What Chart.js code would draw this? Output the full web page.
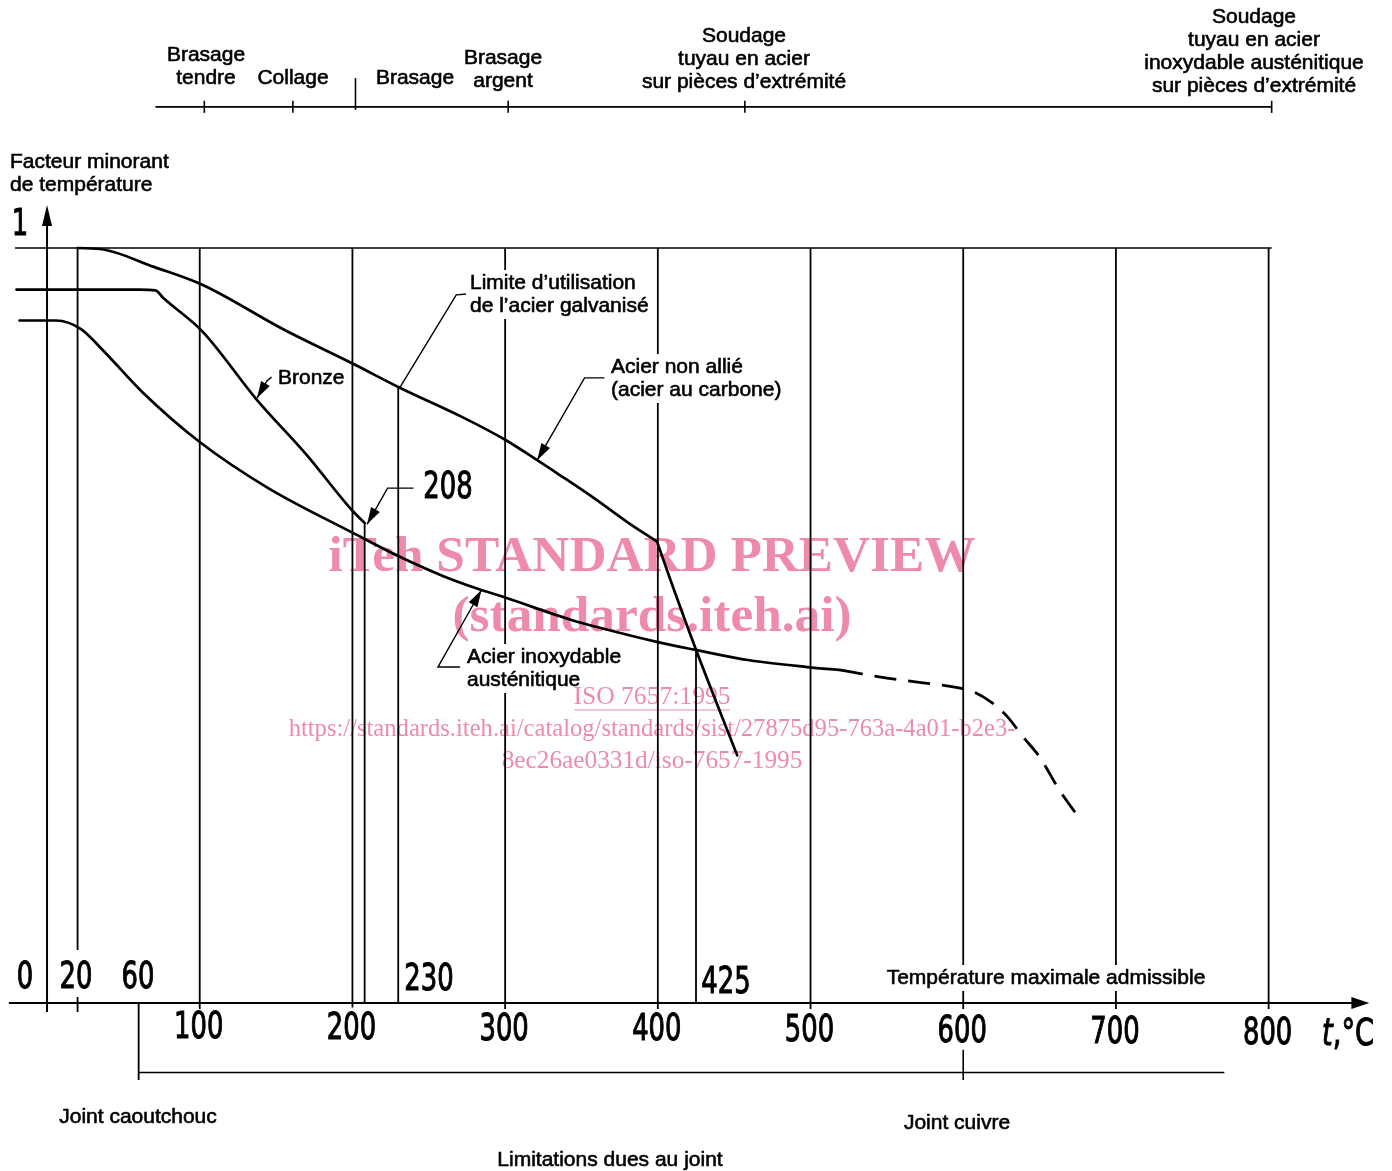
<!DOCTYPE html>
<html>
<head>
<meta charset="utf-8">
<script src="https://cdn.jsdelivr.net/npm/chart.js@4.4.1/dist/chart.umd.min.js"></script>
<style>
  html, body { margin: 0; padding: 0; background: #fff; }
  #wrap { width: 1392px; height: 1171px; position: relative; }
</style>
</head>
<body>
<div id="wrap"><canvas id="chart"></canvas></div>
<script>
// temperature t (°C) / temperature reduction factor
const carbonTemp   = [20, 37, 70, 102, 155, 202, 231, 272, 300, 321, 336, 358, 380, 399.5];
const carbonFactor = [1, 0.998, 0.975, 0.951, 0.892, 0.845, 0.815, 0.776, 0.746, 0.719, 0.699, 0.669, 0.637, 0.611];
// steep drop of the carbon steel curve above 400 °C
const carbonDropTemp   = [399.5, 408, 425, 452];
const carbonDropFactor = [0.611, 0.562, 0.468, 0.328];

const bronzeTemp   = [-20, 20, 60, 71, 76, 102, 137, 170, 200, 208];
const bronzeFactor = [0.945, 0.945, 0.945, 0.944, 0.934, 0.889, 0.8, 0.726, 0.652, 0.636];

const stainlessTemp   = [-18, 6, 22, 35, 63, 100, 144, 200, 231, 260, 283, 300, 344, 362, 400, 424, 460, 498, 520];
const stainlessFactor = [0.904, 0.904, 0.893, 0.868, 0.808, 0.743, 0.683, 0.623, 0.591, 0.565, 0.548, 0.537, 0.507, 0.497, 0.478, 0.468, 0.454, 0.445, 0.441];

// dashed continuation of the stainless steel curve
const stainlessDashTemp   = [520, 545, 570, 598, 607, 618, 629, 639, 650, 663, 677];
const stainlessDashFactor = [0.441, 0.432, 0.425, 0.417, 0.412, 0.399, 0.379, 0.353, 0.326, 0.282, 0.242];

// vertical reference lines: temperature, top and bottom factor
const refTemps  = [20, 100, 200, 208, 230, 300, 400, 425, 500, 600, 700, 800];
const refTop    = [1, 1, 1, 0.636, 0.815, 1, 1, 0.468, 1, 1, 1, 1];
const refBottom = [-0.012, -0.008, -0.006, 0, 0, -0.008, -0.008, 0, -0.008, -0.008, -0.008, -0.008];

// axis tick labels
const xTickValues = [100, 200, 300, 400, 500, 600, 700, 800];

// process limits above the chart (bracket ticks) and joint limits below
const processTicks = [103, 161, 302, 457, 802];
const processSplit = 202;
const processRange = [71, 802];
const jointRange = [60, 771];
const jointTicks = [600];

// leader lines (temperature / factor), last point is the arrow tip
const leaderGalvTemp   = [275, 268, 231];
const leaderGalvFactor = [0.939, 0.938, 0.815];
const leaderBronzeTemp   = [147, 144, 137.5];
const leaderBronzeFactor = [0.829, 0.824, 0.801];
const leader208Temp   = [240, 223, 209.6];
const leader208Factor = [0.682, 0.682, 0.634];
const leaderCarbonTemp   = [365, 352, 321];
const leaderCarbonFactor = [0.828, 0.828, 0.719];
const leaderStainTemp   = [270.5, 256, 284.5];
const leaderStainFactor = [0.445, 0.445, 0.547];

const FONT = '"Liberation Sans", Arial, sans-serif';
const NUMFONT = '"DejaVu Sans", sans-serif';
const PINK = '#ee8aab';

const datasets = [];
const add = (xs, ys, w, extra) => datasets.push(Object.assign({
  data: xs.map((x, i) => ({ x, y: ys[i] })),
  showLine: true, borderColor: '#000', borderWidth: w,
  pointRadius: 0, pointHoverRadius: 0, tension: 0, fill: false
}, extra || {}));

// frame and reference lines
add([-21, 802], [1, 1], 1.7);
add([-25, 858], [0, 0], 2.2);
add([0, 0], [-0.012, 1.045], 2);
refTemps.forEach((t, i) => add([t, t], [refTop[i], refBottom[i]], 1.8));
add([60, 60], [0, -0.102], 1.8);

// process bracket on top
add(processRange, [1.187, 1.187], 1.6);
processTicks.forEach(t => add([t, t], [1.179, 1.195], 1.6));
add([processSplit, processSplit], [1.183, 1.225], 1.6);

// joint bracket below
add(jointRange, [-0.092, -0.092], 1.6);
jointTicks.forEach(t => add([t, t], [-0.062, -0.102], 1.6));

// curves
const curve = { cubicInterpolationMode: 'monotone', borderCapStyle: 'round', borderJoinStyle: 'round' };
add(carbonTemp, carbonFactor, 2.7, curve);
add(carbonDropTemp, carbonDropFactor, 2.7, curve);
add(bronzeTemp, bronzeFactor, 2.7, curve);
add(stainlessTemp, stainlessFactor, 2.7, curve);
add(stainlessDashTemp, stainlessDashFactor, 2.8, Object.assign({}, curve, { borderDash: [22, 12], borderCapStyle: 'butt' }));

// leaders
const leaders = [
  [leaderGalvTemp, leaderGalvFactor, false],
  [leaderBronzeTemp, leaderBronzeFactor, true],
  [leader208Temp, leader208Factor, true],
  [leaderCarbonTemp, leaderCarbonFactor, true],
  [leaderStainTemp, leaderStainFactor, true]
];
leaders.forEach(l => add(l[0], l[1], 1.4));

function arrowHead(ctx, x0, y0, x1, y1, len, half) {
  const a = Math.atan2(y1 - y0, x1 - x0);
  ctx.save();
  ctx.translate(x1, y1);
  ctx.rotate(a);
  ctx.beginPath();
  ctx.moveTo(0, 0);
  ctx.lineTo(-len, -half);
  ctx.lineTo(-len, half);
  ctx.closePath();
  ctx.fillStyle = '#000';
  ctx.fill();
  ctx.restore();
}

function numText(ctx, s, x, y, align) {
  ctx.save();
  ctx.translate(x, y);
  ctx.scale(0.68, 1);
  ctx.font = '38px ' + NUMFONT;
  ctx.textAlign = align || 'center';
  ctx.textBaseline = 'middle';
  ctx.fillStyle = '#000';
  ctx.strokeStyle = '#000';
  ctx.lineWidth = 1.1;
  ctx.fillText(s, 0, 0);
  ctx.strokeText(s, 0, 0);
  ctx.restore();
}

const annot = {
  id: 'annot',
  afterDatasetsDraw(chart) {
    const { ctx, scales: { x, y } } = chart;
    const X = v => x.getPixelForValue(v), Y = v => y.getPixelForValue(v);

    // arrows on axes and leaders
    arrowHead(ctx, X(0), Y(0.9), X(0), Y(1.057), 21, 5);
    arrowHead(ctx, X(800), Y(0), X(866), Y(0), 18, 6);
    leaders.forEach(l => {
      if (!l[2]) return;
      const n = l[0].length;
      arrowHead(ctx, X(l[0][n - 2]), Y(l[1][n - 2]), X(l[0][n - 1]), Y(l[1][n - 1]), 17, 5);
    });

    const labels = [
      ['Brasage', 206, 55, 'center'], ['tendre', 206, 78, 'center'],
      ['Collage', 293, 78, 'center'], ['Brasage', 415, 78, 'center'],
      ['Brasage', 503, 58, 'center'], ['argent', 503, 81, 'center'],
      ['Soudage', 744, 36, 'center'], ['tuyau en acier', 744, 59, 'center'],
      ['sur pièces d’extrémité', 744, 82, 'center'],
      ['Soudage', 1254, 17, 'center'], ['tuyau en acier', 1254, 40, 'center'],
      ['inoxydable austénitique', 1254, 63, 'center'], ['sur pièces d’extrémité', 1254, 86, 'center'],
      ['Facteur minorant', 10, 162, 'left'], ['de température', 10, 185, 'left'],
      ['Limite d’utilisation', 470, 283, 'left', true], ['de l’acier galvanisé', 470, 306, 'left', true],
      ['Bronze', 278, 378, 'left'],
      ['Acier non allié', 611, 367, 'left', true], ['(acier au carbone)', 611, 390, 'left', true],
      ['Acier inoxydable', 467, 657, 'left', true], ['austénitique', 467, 680, 'left', true],
      ['Température maximale admissible', 1046, 978, 'center', true],
      ['Joint caoutchouc', 138, 1117, 'center'], ['Joint cuivre', 957, 1123, 'center'],
      ['Limitations dues au joint', 610, 1160, 'center']
    ];
    ctx.save();
    ctx.font = '21px ' + FONT;
    ctx.textBaseline = 'middle';
    labels.forEach(([s, px, py, align, mask]) => {
      ctx.textAlign = align;
      const w = ctx.measureText(s).width;
      if (mask) {
        const left = align === 'center' ? px - w / 2 : px;
        ctx.fillStyle = '#fff';
        ctx.fillRect(left - 4, py - 13, w + 8, 26);
      }
    });
    labels.forEach(([s, px, py, align]) => {
      ctx.textAlign = align;
      ctx.fillStyle = '#000';
      ctx.strokeStyle = '#000';
      ctx.lineWidth = 0.6;
      ctx.fillText(s, px, py);
      ctx.strokeText(s, px, py);
    });
    ctx.restore();

    // numeric labels
    ctx.save();
    ctx.fillStyle = '#fff';
    ctx.fillRect(57, 950, 38, 47);
    ctx.restore();
    numText(ctx, '1', 20, 225);
    numText(ctx, '208', 448, 488);
    numText(ctx, '0', 25, 978);
    numText(ctx, '20', 76, 978);
    numText(ctx, '60', 138, 978);
    numText(ctx, '230', 429, 980);
    numText(ctx, '425', 726, 983);
    xTickValues.forEach(t => numText(ctx, String(t), X(t) - 1, 1027 + t / 800 * 7));
    // axis unit
    ctx.save();
    ctx.fillStyle = '#000';
    ctx.strokeStyle = '#000';
    ctx.lineWidth = 1.1;
    ctx.textBaseline = 'middle';
    ctx.translate(1322, 1035);
    ctx.scale(0.72, 1);
    ctx.font = 'italic 38px ' + NUMFONT;
    ctx.textAlign = 'left';
    ctx.fillText('t', 0, 0);
    ctx.strokeText('t', 0, 0);
    const tw = ctx.measureText('t').width;
    ctx.font = '38px ' + NUMFONT;
    ctx.fillText(',°C', tw, 0);
    ctx.strokeText(',°C', tw, 0);
    ctx.restore();

    // watermark of the source scan, multiplied so the black lines stay on top
    ctx.save();
    ctx.globalCompositeOperation = 'multiply';
    ctx.fillStyle = PINK;
    ctx.strokeStyle = PINK;
    ctx.textAlign = 'center';
    ctx.textBaseline = 'middle';
    const fit = (s, width, weight) => {
      ctx.font = weight + ' 100px "Liberation Serif", serif';
      return 100 * width / ctx.measureText(s).width;
    };
    const wm = [
      ['iTeh STANDARD PREVIEW', 652, 558, 647, 'bold'],
      ['(standards.iteh.ai)', 652, 618, 399, 'bold'],
      ['ISO 7657:1995', 652, 697, 157, 'normal'],
      ['https://standards.iteh.ai/catalog/standards/sist/27875d95-763a-4a01-b2e3-', 652, 730, 727, 'normal'],
      ['8ec26ae0331d/iso-7657-1995', 652, 761, 301, 'normal']
    ];
    wm.forEach(([s, px, py, width, weight]) => {
      const size = fit(s, width, weight);
      ctx.font = weight + ' ' + size.toFixed(1) + 'px "Liberation Serif", serif';
      ctx.fillText(s, px, py);
    });
    ctx.lineWidth = 1.2;
    ctx.beginPath();
    ctx.moveTo(574, 710);
    ctx.lineTo(730, 710);
    ctx.stroke();
    ctx.restore();
  }
};

new Chart(document.getElementById('chart'), {
  type: 'scatter',
  data: { datasets },
  options: {
    responsive: true,
    maintainAspectRatio: false,
    animation: false,
    events: [],
    layout: { padding: 0 },
    plugins: { legend: { display: false }, tooltip: { enabled: false } },
    scales: {
      x: { type: 'linear', min: -30.8, max: 880.8, display: false },
      y: { type: 'linear', min: -0.2225, max: 1.3285, display: false }
    }
  },
  plugins: [annot]
});
</script>
</body>
</html>
